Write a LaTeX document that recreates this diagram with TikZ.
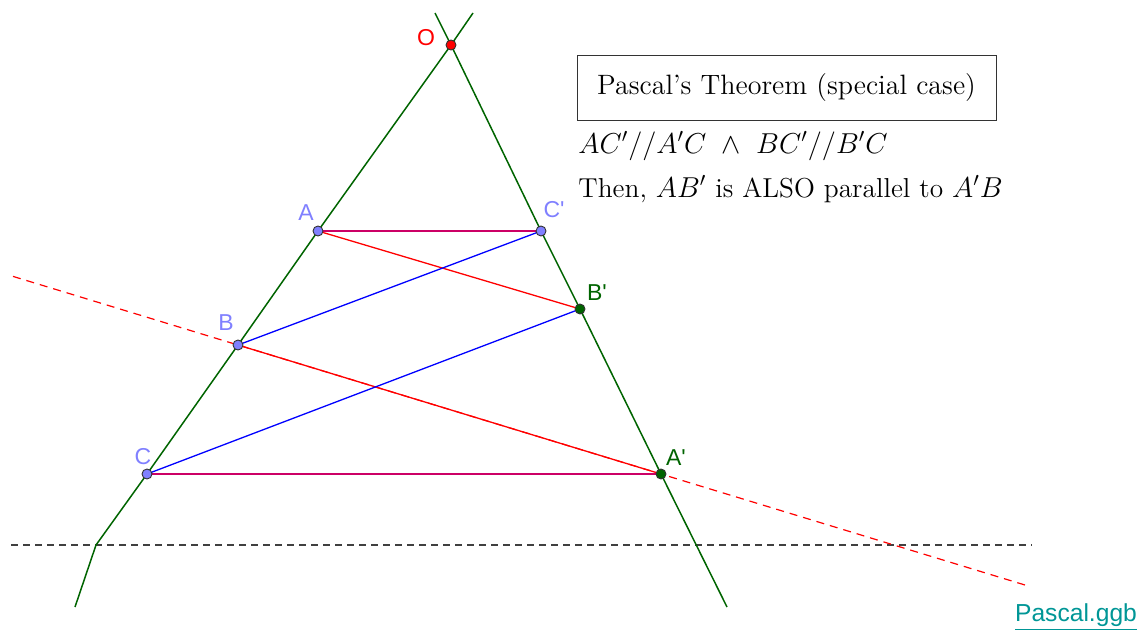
\documentclass[tikz,border=0pt]{standalone}
\usepackage{fontspec}
\usetikzlibrary{calc}
\newfontfamily\labelfont{Liberation Sans}
\begin{document}
\begin{tikzpicture}[x=0.5pt,y=-0.5pt,
  gline/.style={draw=ggreen,line width=0.75pt},
  redline/.style={draw=red,line width=0.65pt},
  blueline/.style={draw=blue,line width=0.65pt},
  crimline/.style={draw=crim,line width=0.95pt},
  bluept/.style={circle,fill=ptblue,draw=black!80,line width=0.45pt,inner sep=0pt,minimum size=5pt},
  greenpt/.style={circle,fill=ggreen,draw=black!80,line width=0.45pt,inner sep=0pt,minimum size=5pt},
  redpt/.style={circle,fill=red,draw=black!80,line width=0.45pt,inner sep=0pt,minimum size=5pt},
  bluelab/.style={text=ptblue,font=\labelfont\fontsize{11.5}{13}\selectfont,inner sep=0pt},
  greenlab/.style={text=ggreen,font=\labelfont\fontsize{11.5}{13}\selectfont,inner sep=0pt},
  redlab/.style={text=red,font=\labelfont\fontsize{11.5}{13}\selectfont,inner sep=0pt},
  bigtext/.style={font=\fontsize{13.7}{16}\selectfont,inner sep=0pt,anchor=base west}
]
\definecolor{ggreen}{RGB}{0,100,0}
\definecolor{ptblue}{RGB}{128,128,255}
\definecolor{crim}{RGB}{204,0,102}
\definecolor{teal2}{RGB}{0,150,150}
\useasboundingbox (0,0) rectangle (1144,633);

% points
\coordinate (O) at (451,45);
\coordinate (A) at (318,231);
\coordinate (B) at (238,345);
\coordinate (C) at (147,474);
\coordinate (Cp) at (541,231);
\coordinate (Bp) at (580,309);
\coordinate (Ap) at (661,474);

% line ends
\coordinate (Ltop) at (473,13);
\coordinate (Lbend) at (96,545);
\coordinate (Lbot) at (75,607);
\coordinate (Rtop) at (435,13);
\coordinate (Rbot) at (727,607);
\coordinate (Dleft) at (11,545);
\coordinate (Dright) at (1032,545);
\coordinate (Rdl) at ($(B)!-0.532!(Ap)$);
\coordinate (Rdr) at ($(B)!1.872!(Ap)$);

% dashed lines
\draw[black!75,line width=0.6pt,dash pattern=on 3.5pt off 2.5pt] (Dleft) -- (Dright);
\draw[red,line width=0.6pt,dash pattern=on 4pt off 3pt] (Rdl) -- (Rdr);

% green lines
\draw[gline] (Ltop) -- (O) -- (A) -- (B) -- (C) -- (Lbend) -- (Lbot);
\draw[gline] (Rtop) -- (O) -- (Cp) -- (Bp) -- (Ap) -- (Rbot);

% segments
\draw[redline] (A) -- (Bp);
\draw[redline] (B) -- (Ap);
\draw[blueline] (B) -- (Cp);
\draw[blueline] (C) -- (Bp);
\draw[crimline] (A) -- (Cp);
\draw[crimline] (C) -- (Ap);

% point markers
\node[redpt] (nO) at (O) {};
\node[bluept] (nA) at (A) {};
\node[bluept] (nB) at (B) {};
\node[bluept] (nC) at (C) {};
\node[bluept] (nCp) at (Cp) {};
\node[greenpt] (nBp) at (Bp) {};
\node[greenpt] (nAp) at (Ap) {};

% labels
\node[redlab] (lO) at (426,38) {O};
\node[bluelab] (lA) at (306,213) {A};
\node[bluelab] (lB) at (226,323) {B};
\node[bluelab] (lC) at (143,457) {C};
\node[bluelab] (lCp) at (554,210) {C'};
\node[greenlab] (lBp) at (597,293) {B'};
\node[greenlab] (lAp) at (676,458) {A'};

% text box
\node[draw=black!80,line width=0.5pt,minimum width=209.5pt,minimum height=32.5pt,inner sep=0pt,
      font=\fontsize{14}{16}\selectfont] (title) at (786.5,87.5) {Pascal's Theorem (special case)};
\node[bigtext] (cond) at (578,153) {$AC'//A'C\ \wedge\ BC'//B'C$};
\node[bigtext] (concl) at (578,197) {Then, $AB'$ is ALSO parallel to $A'B$};

\node[text=teal2,font=\labelfont\fontsize{12.3}{14}\selectfont,inner sep=0pt] (ggb) at (1076,617) {\underline{Pascal.ggb}};
\end{tikzpicture}
\end{document}
